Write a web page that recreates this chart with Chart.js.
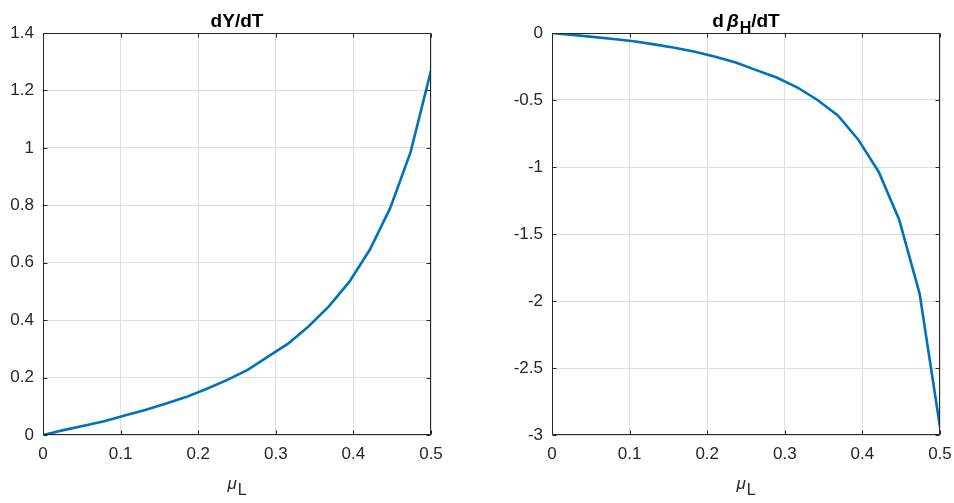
<!DOCTYPE html>
<html><head><meta charset="utf-8">
<script src="https://cdn.jsdelivr.net/npm/chart.js@4.4.0/dist/chart.umd.min.js"></script>
<style>
html,body{margin:0;padding:0;background:#fff;overflow:hidden}
#wrap{position:relative;width:954px;height:503px;background:#fff}
canvas{position:absolute;top:0}
</style></head><body>
<div id="wrap">
<canvas id="c1" width="477" height="503" style="left:0px;width:477px;height:503px"></canvas>
<canvas id="c2" width="477" height="503" style="left:477px;width:477px;height:503px"></canvas>
</div>
<script>
// ---- data ----
const muL = [0, 0.0263, 0.0526, 0.0789, 0.1053, 0.1316, 0.1579, 0.1842, 0.2105, 0.2368,
             0.2632, 0.2895, 0.3158, 0.3421, 0.3684, 0.3947, 0.4211, 0.4474, 0.4737, 0.5];
const dYdT = [0, 0.017, 0.032, 0.048, 0.068, 0.087, 0.109, 0.132, 0.160, 0.191,
              0.226, 0.272, 0.318, 0.378, 0.448, 0.533, 0.645, 0.790, 0.985, 1.269];
const dBetaHdT = [0, -0.014, -0.029, -0.045, -0.062, -0.085, -0.110, -0.140, -0.177, -0.220,
                  -0.277, -0.332, -0.405, -0.500, -0.615, -0.796, -1.037, -1.393, -1.945, -2.94];
const xTickValues = [0, 0.1, 0.2, 0.3, 0.4, 0.5];
const xTickLabels = ['0', '0.1', '0.2', '0.3', '0.4', '0.5'];
const yTickValuesLeft = [0, 0.2, 0.4, 0.6, 0.8, 1, 1.2, 1.4];
const yTickLabelsLeft = ['0', '0.2', '0.4', '0.6', '0.8', '1', '1.2', '1.4'];
const yTickValuesRight = [-3, -2.5, -2, -1.5, -1, -0.5, 0];
const yTickLabelsRight = ['-3', '-2.5', '-2', '-1.5', '-1', '-0.5', '0'];

const FONT = "'Liberation Sans', Arial, Helvetica, sans-serif";
Chart.defaults.font.family = FONT;
const AX = '#262626';
const GRID = '#dfdfdf';
const LINE = '#0072BD';

function drawRich(ctx, segs, cx) {
  let total = 0;
  segs.forEach(s => { ctx.font = s.font; s.w = ctx.measureText(s.text).width; total += s.w + (s.gap || 0); });
  let x = cx - total / 2;
  ctx.textAlign = 'left';
  ctx.textBaseline = 'alphabetic';
  segs.forEach(s => {
    x += (s.gap || 0);
    ctx.font = s.font;
    ctx.fillStyle = s.color;
    ctx.fillText(s.text, x, s.y);
    x += s.w;
  });
}

function makeChart(id, yVals, yMin, yMax, yTickVals, yTickLabs, yAxisWidth, padRight, titleSegs) {
  const boxPlugin = {
    id: 'boxAndTitles',
    afterDraw(chart) {
      const ctx = chart.ctx;
      const a = chart.chartArea;
      const xs = chart.scales.x, ys = chart.scales.y;
      const L = Math.round(a.left) + 0.5, R = Math.round(a.right) - 0.5;
      const T = Math.round(a.top) + 0.5, B = Math.round(a.bottom) - 0.5;
      ctx.save();
      ctx.strokeStyle = AX;
      ctx.lineWidth = 1;
      ctx.beginPath();
      ctx.rect(L, T, R - L, B - T);
      const tl = 4;
      xTickValues.forEach(v => {
        const p = Math.round(xs.getPixelForValue(v)) + 0.5;
        ctx.moveTo(p, B); ctx.lineTo(p, B - tl);
        ctx.moveTo(p, T); ctx.lineTo(p, T + tl);
      });
      yTickVals.forEach(v => {
        const p = Math.round(ys.getPixelForValue(v)) + 0.5;
        ctx.moveTo(L, p); ctx.lineTo(L + tl, p);
        ctx.moveTo(R, p); ctx.lineTo(R - tl, p);
      });
      ctx.stroke();
      const cx = (a.left + a.right) / 2;
      drawRich(ctx, titleSegs, cx);
      drawRich(ctx, [
        { text: 'μ', font: 'italic 17px ' + FONT, color: AX, y: 489 },
        { text: 'L', font: '16px ' + FONT, color: AX, y: 495, gap: 1 }
      ], cx);
      ctx.restore();
    }
  };
  return new Chart(document.getElementById(id), {
    type: 'line',
    data: {
      datasets: [{
        data: muL.map((m, i) => ({ x: m, y: yVals[i] })),
        borderColor: LINE,
        borderWidth: 2.6,
        pointRadius: 0,
        tension: 0,
        fill: false
      }]
    },
    options: {
      responsive: false,
      animation: false,
      devicePixelRatio: 1,
      layout: { padding: { left: 0, right: padRight, top: 33, bottom: 0 } },
      plugins: { legend: { display: false }, title: { display: false }, tooltip: { enabled: false } },
      scales: {
        x: {
          type: 'linear', min: 0, max: 0.5,
          afterBuildTicks: s => { s.ticks = xTickValues.map(v => ({ value: v })); },
          afterFit: s => { s.height = 68; s.paddingLeft = 0; s.paddingRight = 0; },
          grid: { color: GRID, lineWidth: 1, drawTicks: false },
          border: { display: false },
          ticks: {
            autoSkip: false, maxRotation: 0, padding: 9,
            color: AX, font: { size: 17 },
            callback: (v, i) => xTickLabels[i]
          }
        },
        y: {
          type: 'linear', min: yMin, max: yMax,
          afterBuildTicks: s => { s.ticks = yTickVals.map(v => ({ value: v })); },
          afterFit: s => { s.width = yAxisWidth; s.paddingTop = 0; s.paddingBottom = 0; },
          grid: { color: GRID, lineWidth: 1, drawTicks: false },
          border: { display: false },
          ticks: {
            autoSkip: false, padding: 9,
            color: AX, font: { size: 17 },
            callback: (v, i) => yTickLabs[i]
          }
        }
      }
    },
    plugins: [boxPlugin]
  });
}

makeChart('c1', dYdT, 0, 1.4, yTickValuesLeft, yTickLabelsLeft, 43, 46, [
  { text: 'dY/dT', font: 'bold 19px ' + FONT, color: '#000', y: 26.5 }
]);
makeChart('c2', dBetaHdT, -3, 0, yTickValuesRight, yTickLabelsRight, 75, 14, [
  { text: 'd', font: 'bold 19px ' + FONT, color: '#000', y: 26.5 },
  { text: 'β', font: 'italic bold 19px ' + FONT, color: '#000', y: 26.5, gap: 3 },
  { text: 'H', font: 'bold 16px ' + FONT, color: '#000', y: 33, gap: 1 },
  { text: '/dT', font: 'bold 19px ' + FONT, color: '#000', y: 26.5 }
]);
</script>
</body></html>
